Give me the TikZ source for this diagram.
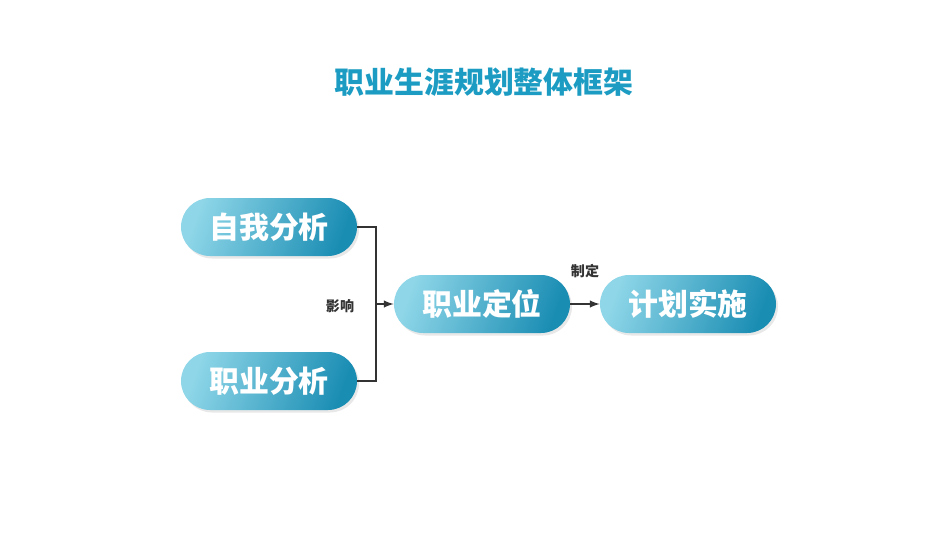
\documentclass[tikz,border=0pt]{standalone}
\usepackage{fontspec}
\newfontfamily\cjk{Noto Sans CJK SC}
\usetikzlibrary{shadows}
\definecolor{pilllight}{HTML}{8ED6E8}
\definecolor{pilldark}{HTML}{1A8DB3}
\definecolor{titleblue}{HTML}{1C9CC2}
\definecolor{linegray}{HTML}{333333}
\tikzset{
  pill/.style={minimum width=3.52cm, minimum height=1.16cm, rounded corners=0.58cm,
    left color=pilllight, right color=pilldark, shading angle=70,
    drop shadow={opacity=0.18, shadow xshift=0.04cm, shadow yshift=-0.05cm},
    text=white, font=\cjk\bfseries\fontsize{17}{20}\selectfont},
  link/.style={linegray, line width=0.9pt},
  tag/.style={text=linegray, font=\cjk\bfseries\fontsize{8}{10}\selectfont}
}
\begin{document}
\begin{tikzpicture}
    \useasboundingbox (0,0) rectangle (19,-10.7);

    % Title
    \node[text=titleblue, font=\cjk\bfseries\fontsize{17}{20}\selectfont] (title) at (9.68,-1.64) {职业生涯规划整体框架};

    % Boxes
    \node[pill] (self) at (5.38,-4.54) {自我分析};
    \node[pill] (job) at (5.38,-7.62) {职业分析};
    \node[pill] (pos) at (9.64,-6.08) {职业定位};
    \node[pill] (plan) at (13.76,-6.08) {计划实施};

    % Connectors
    \coordinate (bend) at (7.52,-6.08);
    \draw[link] (self.east) -| (bend) |- (job.east);
    \draw[link, -latex] (bend) -- (pos.west);
    \draw[link, -latex] (pos.east) -- (plan.west);

    % Labels
    \node[tag] (influence) at (6.8,-6.12) {影响};
    \node[tag] (make) at (11.7,-5.42) {制定};
\end{tikzpicture}
\end{document}
